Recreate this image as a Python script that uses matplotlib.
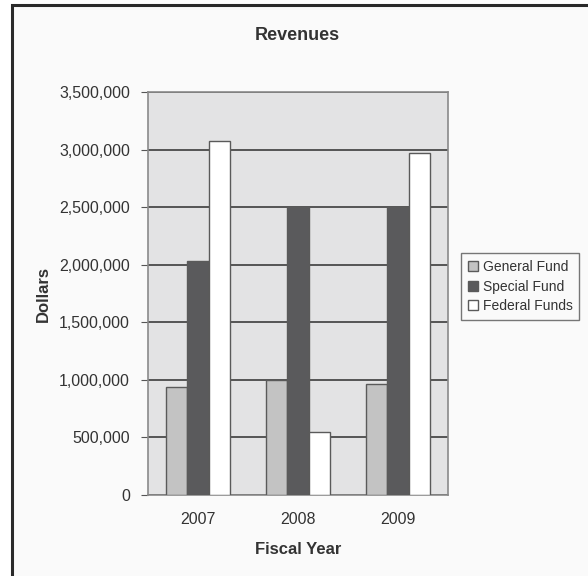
import matplotlib
matplotlib.use("Agg")
import matplotlib.pyplot as plt
from matplotlib.patches import Rectangle
from matplotlib.ticker import FuncFormatter
import numpy as np

years = ["2007", "2008", "2009"]
series_names = ["General Fund", "Special Fund", "Federal Funds"]
general_fund = [935000, 1000000, 965000]
special_fund = [2035000, 2500000, 2500000]
federal_funds = [3075000, 545000, 2970000]
colors = ["#c3c3c3", "#5a5a5c", "#ffffff"]

plt.rcParams['font.family'] = ['Liberation Sans', 'DejaVu Sans']

fig = plt.figure(figsize=(5.88, 5.76), dpi=100)
fig.patch.set_facecolor("white")
W, H = 588, 576
# outer chart border
fig.patches.append(Rectangle((12 / W, -0.1), 1.0, (576 - 5) / H + 0.1, transform=fig.transFigure,
                             facecolor="#fafafa", edgecolor="#2a2a2a", linewidth=2.2, zorder=-5))

ax = fig.add_axes([148 / W, 1 - 495 / H, 300 / W, (495 - 92) / H])
ax.set_facecolor("#e3e3e4")

x = np.arange(len(years))
bw = 0.215
data = [general_fund, special_fund, federal_funds]
for i, (vals, name, c) in enumerate(zip(data, series_names, colors)):
    ax.bar(x + (i - 1) * bw, vals, width=bw, color=c, edgecolor="#5a5a5a",
           linewidth=1.0, label=name, zorder=3)

ax.set_xlim(-0.5, 2.5)
ax.set_ylim(0, 3500000)
ax.set_yticks(np.arange(0, 3500001, 500000))
ax.yaxis.set_major_formatter(FuncFormatter(lambda v, p: f"{int(v):,}"))
ax.set_xticks(x)
ax.set_xticklabels(years)
ax.grid(axis="y", color="#4a4a4a", linewidth=1.3, zorder=1)
ax.set_axisbelow(True)
for s in ax.spines.values():
    s.set_color("#8a8a8a")
    s.set_linewidth(1.2)
ax.tick_params(axis="y", length=5, color="#555555", labelsize=11.5, labelcolor="#333333", pad=8)
ax.tick_params(axis="x", length=0, labelsize=11.5, labelcolor="#333333", pad=12)

ax.set_ylabel("Dollars", fontsize=12, fontweight="bold", color="#333333", labelpad=6)
ax.set_xlabel("Fiscal Year", fontsize=12, fontweight="bold", color="#333333", labelpad=11)
fig.text(297 / W, 1 - 35 / H, "Revenues", ha="center", va="center",
         fontsize=13, fontweight="bold", color="#333333")

leg = fig.legend(loc="upper left", bbox_to_anchor=(461 / W, 1 - 253 / H),
                 frameon=True, fancybox=False, fontsize=10, handlelength=0.7,
                 handleheight=0.7, handletextpad=0.35, labelspacing=0.4,
                 borderpad=0.5, borderaxespad=0)
leg.get_frame().set_edgecolor("#555555")
leg.get_frame().set_facecolor("#fafafa")
leg.get_frame().set_linewidth(1.0)
for t in leg.get_texts():
    t.set_color("#333333")

fig.savefig("out.png", dpi=100)
